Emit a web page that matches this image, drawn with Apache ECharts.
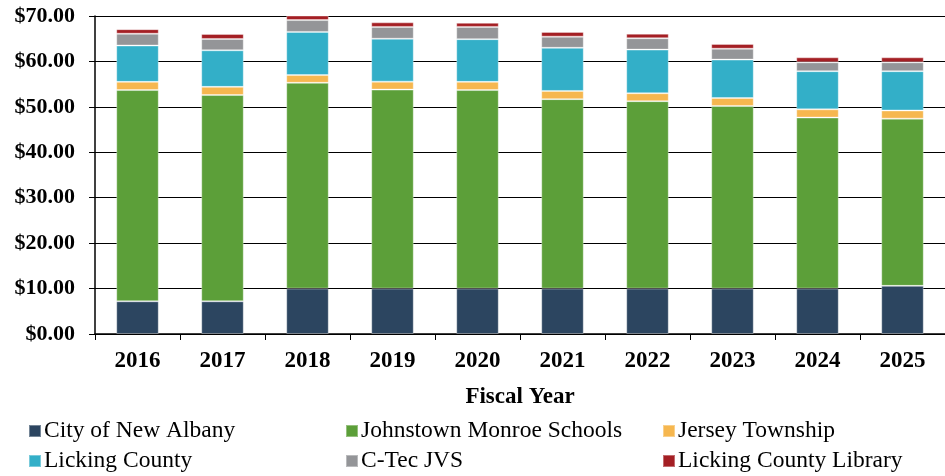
<!DOCTYPE html>
<html>
<head>
<meta charset="utf-8">
<script src="https://cdn.jsdelivr.net/npm/echarts@6/dist/echarts.min.js"></script>
<style>
  html, body { margin: 0; padding: 0; background: #fff; }
  #chart { width: 945px; height: 476px; }
</style>
</head>
<body>
<div id="chart"></div>
<script>
// Fiscal years on the category axis
const years = ['2016', '2017', '2018', '2019', '2020', '2021', '2022', '2023', '2024', '2025'];

// Tax rate share per taxing district (dollars), stacked per year
const cityNewAlbany      = [7.2, 7.2, 10.0, 10.0, 10.0, 10.0, 10.0, 10.0, 10.0, 10.6];
const johnstownSchools   = [46.5, 45.4, 45.3, 43.8, 43.7, 41.7, 41.25, 40.2, 37.65, 36.8];
const jerseyTownship     = [1.8, 1.8, 1.7, 1.75, 1.8, 1.8, 1.75, 1.75, 1.8, 1.8];
const lickingCounty      = [8.0, 8.05, 9.5, 9.45, 9.4, 9.5, 9.6, 8.45, 8.4, 8.65];
const cTecJVS            = [2.6, 2.5, 2.6, 2.6, 2.7, 2.45, 2.5, 2.4, 1.95, 1.95];
const lickingLibrary     = [1.0, 1.1, 1.0, 1.0, 0.9, 1.05, 1.0, 1.05, 1.1, 1.1];

// Y axis scale
const yMin = 0, yMax = 70, yStep = 10;

const serif = '"Liberation Serif", "Times New Roman", serif';

const seriesDefs = [
  { name: 'City of New Albany',       data: cityNewAlbany,    color: '#2C4560' },
  { name: 'Johnstown Monroe Schools', data: johnstownSchools, color: '#5C9F39' },
  { name: 'Jersey Township',          data: jerseyTownship,   color: '#F6B74F' },
  { name: 'Licking County',           data: lickingCounty,    color: '#33AFC8' },
  { name: 'C-Tec JVS',                data: cTecJVS,          color: '#949598' },
  { name: 'Licking County Library',   data: lickingLibrary,   color: '#A41F24' }
];

// Legend laid out as a 3 x 2 grid
const legendCols = [28, 345, 662];
const legendRows = [419, 449];
const legends = seriesDefs.map((s, i) => ({
  data: [s.name],
  left: legendCols[i % 3],
  top: legendRows[Math.floor(i / 3)],
  icon: 'rect',
  itemWidth: 12,
  itemHeight: 12,
  itemGap: 0,
  padding: 0,
  textStyle: { fontFamily: serif, fontSize: 23.5, color: '#000', padding: [0, 0, 0, -2] }
}));

const chart = echarts.init(document.getElementById('chart'), null, { renderer: 'canvas' });
chart.setOption({
  animation: false,
  backgroundColor: '#fff',
  grid: { left: 95, right: 0, top: 16, bottom: 142, containLabel: false },
  legend: legends,
  xAxis: {
    type: 'category',
    data: years,
    name: 'Fiscal Year',
    nameLocation: 'middle',
    nameGap: 52,
    nameTextStyle: { fontFamily: serif, fontSize: 23, fontWeight: 'bold', color: '#000' },
    axisLine: { lineStyle: { color: '#000', width: 1.5 } },
    axisTick: { show: true, alignWithLabel: false, length: 6, lineStyle: { color: '#000', width: 1 } },
    axisLabel: { fontFamily: serif, fontSize: 23, fontWeight: 'bold', color: '#000', margin: 16 }
  },
  yAxis: {
    type: 'value',
    min: yMin,
    max: yMax,
    interval: yStep,
    axisLine: { show: true, lineStyle: { color: '#000', width: 1.5 } },
    axisTick: { show: true, length: 6, lineStyle: { color: '#000', width: 1 } },
    splitLine: { show: true, lineStyle: { color: '#000', width: 1 } },
    axisLabel: {
      fontFamily: serif, fontSize: 22, fontWeight: 'bold', color: '#000', margin: 20,
      formatter: v => '$' + v.toFixed(2)
    }
  },
  series: seriesDefs.map(s => ({
    name: s.name,
    type: 'bar',
    stack: 'total',
    barWidth: '50%',
    data: s.data,
    itemStyle: { color: s.color, borderColor: 'rgba(255,255,255,0.35)', borderWidth: 1 }
  }))
});
</script>
</body>
</html>
